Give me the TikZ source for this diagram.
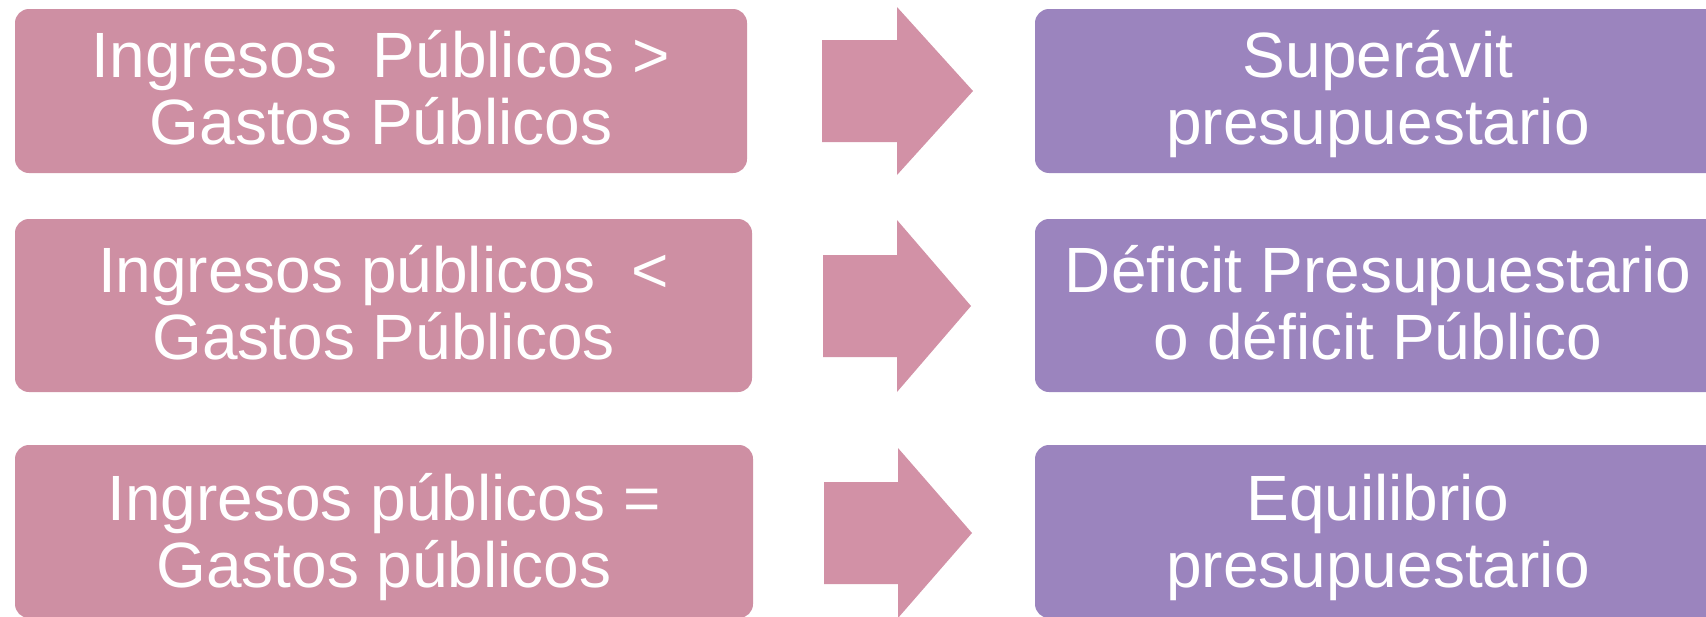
\documentclass[tikz,border=0pt]{standalone}
\usepackage{fontspec}
\setmainfont{Liberation Sans}
\definecolor{pinkbox}{HTML}{CE8FA3}
\definecolor{pinkarrow}{HTML}{D291A6}
\definecolor{purplebox}{HTML}{9B84BE}
\tikzset{
  box/.style={rounded corners=14pt, inner sep=0pt, draw=none},
  lbox/.style={box, fill=pinkbox},
  rbox/.style={box, fill=purplebox},
  txt/.style={text=white, align=center, inner sep=0pt, anchor=base,
    font=\fontsize{64pt}{67pt}\selectfont},
  bigarrow/.style={fill=pinkarrow, draw=none}
}
\begin{document}
\begin{tikzpicture}[x=1pt,y=-1pt]
\useasboundingbox (0,0) rectangle (1706,616);
% left boxes
\node[lbox, minimum width=732pt, minimum height=164pt] (l1) at (381,91) {};
\node[lbox, minimum width=737pt, minimum height=173pt] (l2) at (383.5,305.5) {};
\node[lbox, minimum width=738pt, minimum height=173pt] (l3) at (384,531.5) {};
% right boxes
\node[rbox, minimum width=686pt, minimum height=164pt] (r1) at (1378,91) {};
\node[rbox, minimum width=686pt, minimum height=173pt] (r2) at (1378,305.5) {};
\node[rbox, minimum width=686pt, minimum height=173pt] (r3) at (1378,531.5) {};
% texts
\node[txt] (t1) at (381,144) {Ingresos~ Públicos >\\Gastos Públicos};
\node[txt] (t2) at (383.5,359) {Ingresos públicos~ <\\Gastos Públicos};
\node[txt] (t3) at (384,587) {Ingresos públicos =\\Gastos públicos};
\node[txt] (s1) at (1378,144) {Superávit\\presupuestario};
\node[txt] (s2) at (1378,359) {Déficit Presupuestario\\o déficit Público};
\node[txt] (s3) at (1378,587) {Equilibrio\\presupuestario};
% block arrows
\fill[bigarrow] (822,40) -- (897,40) -- (897,7) -- (973,91) -- (897,175) -- (897,142) -- (822,142) -- cycle;
\fill[bigarrow] (823,255) -- (897,255) -- (897,220) -- (971,306) -- (897,392) -- (897,357) -- (823,357) -- cycle;
\fill[bigarrow] (824,482) -- (898,482) -- (898,448) -- (972,533) -- (898,618) -- (898,584) -- (824,584) -- cycle;
\end{tikzpicture}
\end{document}
